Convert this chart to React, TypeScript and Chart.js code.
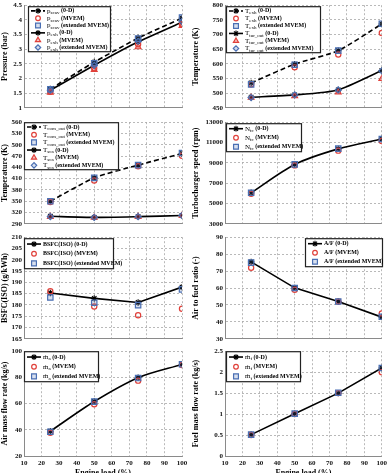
import React, { useEffect, useRef } from "react";
import { Chart, registerables } from "chart.js";

Chart.register(...registerables);

const FONT = '"Liberation Serif", "Times New Roman", serif';

// Engine load (%) — x positions of all measurements
const engineLoad = [25, 50, 75, 100];
const loadAxisRange = [10, 100, 10];

// Pressure (bar)
const pScav0D = [1.64, 2.56, 3.38, 4.06];
const pScavMVEM = [1.55, 2.35, 3.17, 3.85];
const pScavExt = [1.63, 2.52, 3.36, 4.08];
const pExh0D = [1.6, 2.45, 3.25, 3.92];
const pExhMVEM = [1.52, 2.3, 3.07, 3.8];
const pExhExt = [1.6, 2.45, 3.27, 3.95];
const pressureRange = [1, 4.5, 0.5];

// Temperature (K) exhaust / turbine out
const tExh0D = [535, 599, 645, 736];
const tExhMVEM = [530, 588, 632, 705];
const tExhExt = [530, 597, 645, 737];
const tTurOut0D = [486, 494, 511, 577];
const tTurOutMVEM = [485, 490, 503, 549];
const tTurOutExt = [485, 494, 511, 576];
const tempExhRange = [450, 800, 50];

// Temperature (K) compressor out / scavenge
const tComOut0D = [350, 412, 446, 477];
const tComOutMVEM = [348, 405, 443, 471];
const tComOutExt = [350, 412, 446, 478];
const tSca0D = [310, 307, 309, 312];
const tScaMVEM = [309, 307, 309, 312];
const tScaExt = [309, 307, 309, 312];
const tempComRange = [290, 560, 30];

// Turbocharger speed (rpm)
const nTc0D = [6050, 8840, 10375, 11340];
const nTcMVEM = [5950, 8750, 10200, 11150];
const nTcExt = [6050, 8850, 10400, 11350];
const speedRange = [3000, 13000, 2000];

// BSFC(ISO) (g/kWh)
const bsfc0D = [185.3, 182.9, 181.1, 187.9];
const bsfcMVEM = [186.1, 179.3, 175.4, 178.3];
const bsfcExt = [183.3, 181, 179.9, 186.9];
const bsfcRange = [165, 210, 5];

// Air to fuel ratio (-)
const af0D = [75.4, 60.1, 52, 42.8];
const afMVEM = [72, 59, 52, 45];
const afExt = [75, 60, 52, 43];
const afRange = [30, 90, 10];

// Air mass flow rate (kg/s)
const ma0D = [38.9, 61.6, 79.8, 89.9];
const maMVEM = [37.8, 59.5, 77.5, 89.5];
const maExt = [38.5, 61.5, 79.5, 90];
const maRange = [20, 100, 20];

// Fuel mass flow rate (kg/s)
const mf0D = [0.51, 1.01, 1.5, 2.1];
const mfMVEM = [0.5, 1.0, 1.5, 2.0];
const mfExt = [0.51, 1.01, 1.51, 2.1];
const mfRange = [0, 2.5, 0.5];

const RED = "#e0403a";
const RED_FILL = "rgba(224,64,58,0.30)";
const BLUE = "#4a6fb3";
const BLUE_FILL = "rgba(74,111,179,0.22)";

type Series = {
  kind: "0D" | "mvem" | "ext";
  data: number[];
  dashed?: boolean;
  style?: string;
  main: string;
  sub?: string;
  rest: string;
};
type Box = { dx: number; dy: number; w: number; h: number };
type Spec = {
  row: number;
  col: number;
  yTitle: string;
  yRange: number[];
  tension: number;
  legend: Box;
  series: Series[];
};

const COLS = [
  { left: 0, width: 190, yW: 24, padR: 8, titlePad: 0 },
  { left: 190, width: 197, yW: 35, padR: 4, titlePad: 1.2 },
];
const ROWS = [
  { top: 5, bottom: 110 },
  { top: 122, bottom: 226 },
  { top: 237, bottom: 341 },
  { top: 351, bottom: 456 },
];

function trio(main: string, sub: string | undefined, d0: number[], dm: number[], de: number[], dashed: boolean, mStyle: string, eStyle: string): Series[] {
  return [
    { kind: "0D", data: d0, dashed, main, sub, rest: "(0-D)" },
    { kind: "mvem", data: dm, style: mStyle, main, sub, rest: "(MVEM)" },
    { kind: "ext", data: de, style: eStyle, main, sub, rest: "(extended MVEM)" },
  ];
}

const SPECS: Spec[] = [
  {
    row: 0, col: 0, yTitle: "Pressure (bar)", yRange: pressureRange, tension: 0.1,
    legend: { dx: 4, dy: 1, w: 83, h: 46 },
    series: [
      ...trio("p", "scav", pScav0D, pScavMVEM, pScavExt, true, "circle", "rect"),
      ...trio("p", "exh", pExh0D, pExhMVEM, pExhExt, false, "triangle", "rectRot"),
    ],
  },
  {
    row: 0, col: 1, yTitle: "Temperature (K)", yRange: tempExhRange, tension: 0.2,
    legend: { dx: 1, dy: 1, w: 95, h: 47 },
    series: [
      ...trio("T", "exh", tExh0D, tExhMVEM, tExhExt, true, "circle", "rect"),
      ...trio("T", "tur_out", tTurOut0D, tTurOutMVEM, tTurOutExt, false, "triangle", "rectRot"),
    ],
  },
  {
    row: 1, col: 0, yTitle: "Temperature (K)", yRange: tempComRange, tension: 0.2,
    legend: { dx: 0, dy: 0, w: 95, h: 48 },
    series: [
      ...trio("T", "com_out", tComOut0D, tComOutMVEM, tComOutExt, true, "circle", "rect"),
      ...trio("T", "sca", tSca0D, tScaMVEM, tScaExt, false, "triangle", "rectRot"),
    ],
  },
  {
    row: 1, col: 1, yTitle: "Turbocharger speed (rpm)", yRange: speedRange, tension: 0.3,
    legend: { dx: 1, dy: 1, w: 76, h: 29 },
    series: trio("N", "tc", nTc0D, nTcMVEM, nTcExt, false, "circle", "rect"),
  },
  {
    row: 2, col: 0, yTitle: "BSFC(ISO) (g/kWh)", yRange: bsfcRange, tension: 0,
    legend: { dx: 0, dy: 1, w: 90, h: 31 },
    series: trio("BSFC(ISO)", undefined, bsfc0D, bsfcMVEM, bsfcExt, false, "circle", "rect"),
  },
  {
    row: 2, col: 1, yTitle: "Air to fuel ratio (-)", yRange: afRange, tension: 0,
    legend: { dx: 80, dy: 1, w: 78, h: 29 },
    series: trio("A/F", undefined, af0D, afMVEM, afExt, false, "circle", "rect"),
  },
  {
    row: 3, col: 0, yTitle: "Air mass flow rate (kg/s)", yRange: maRange, tension: 0.3,
    legend: { dx: 0, dy: 0, w: 75, h: 31 },
    series: trio("ṁ", "a", ma0D, maMVEM, maExt, false, "circle", "rect"),
  },
  {
    row: 3, col: 1, yTitle: "Fuel mass flow rate (kg/s)", yRange: mfRange, tension: 0,
    legend: { dx: 1, dy: 0, w: 75, h: 31 },
    series: trio("ṁ", "f", mf0D, mfMVEM, mfExt, false, "circle", "rect"),
  },
];

function markerRadius(style: string): number {
  if (style === "rect") return 3.8;
  if (style === "triangle") return 3.3;
  if (style === "rectRot") return 3;
  if (style === "star") return 3.2;
  return 2.6;
}

function makeDataset(s: Series, tension: number) {
  const data = engineLoad.map((x, i) => ({ x, y: s.data[i] }));
  const label = s.main + (s.sub ? "_" + s.sub : "") + " " + s.rest;
  if (s.kind === "0D") {
    return {
      label, data,
      borderColor: "#000", backgroundColor: "#000",
      borderWidth: 1.6, borderDash: s.dashed ? [5, 3] : [],
      tension, showLine: true, fill: false,
      pointStyle: "star", pointRadius: markerRadius("star"),
      pointBorderColor: "#000", pointBackgroundColor: "#000", pointBorderWidth: 1.1,
      order: 2,
    };
  }
  const style = s.style || "circle";
  const isRed = s.kind === "mvem";
  const stroke = isRed ? RED : BLUE;
  const fill = isRed ? (style === "triangle" ? RED_FILL : "rgba(255,255,255,0)") : BLUE_FILL;
  return {
    label, data, showLine: false,
    borderColor: stroke, backgroundColor: fill,
    pointStyle: style, pointRadius: markerRadius(style),
    pointBorderColor: stroke, pointBackgroundColor: fill, pointBorderWidth: 1.2,
    order: isRed ? 1 : 0,
  };
}

function drawMarker(ctx: CanvasRenderingContext2D, style: string, x: number, y: number, r: number, stroke: string, fill: string, lw: number) {
  ctx.save();
  ctx.setLineDash([]);
  ctx.strokeStyle = stroke;
  ctx.fillStyle = fill;
  ctx.lineWidth = lw;
  ctx.beginPath();
  if (style === "circle") {
    ctx.arc(x, y, r, 0, Math.PI * 2);
    ctx.fill();
    ctx.stroke();
  } else if (style === "rect") {
    const s = r * Math.SQRT1_2;
    ctx.rect(x - s, y - s, 2 * s, 2 * s);
    ctx.fill();
    ctx.stroke();
  } else if (style === "rectRot") {
    ctx.moveTo(x - r, y);
    ctx.lineTo(x, y - r);
    ctx.lineTo(x + r, y);
    ctx.lineTo(x, y + r);
    ctx.closePath();
    ctx.fill();
    ctx.stroke();
  } else if (style === "triangle") {
    ctx.moveTo(x, y - r);
    ctx.lineTo(x + 0.866 * r, y + 0.5 * r);
    ctx.lineTo(x - 0.866 * r, y + 0.5 * r);
    ctx.closePath();
    ctx.fill();
    ctx.stroke();
  } else {
    const d = r * Math.SQRT1_2;
    ctx.moveTo(x - d, y - d); ctx.lineTo(x + d, y + d);
    ctx.moveTo(x - d, y + d); ctx.lineTo(x + d, y - d);
    ctx.moveTo(x, y - r); ctx.lineTo(x, y + r);
    ctx.moveTo(x - r, y); ctx.lineTo(x + r, y);
    ctx.stroke();
  }
  ctx.restore();
}

function legendPlugin(box: Box, series: Series[]) {
  return {
    id: "boxLegend",
    afterDatasetsDraw(chart: any) {
      const ctx: CanvasRenderingContext2D = chart.ctx;
      const a = chart.chartArea;
      const x = a.left + box.dx;
      const y = a.top + box.dy;
      ctx.save();
      ctx.fillStyle = "#fff";
      ctx.fillRect(x, y, box.w, box.h);
      ctx.strokeStyle = "#222";
      ctx.lineWidth = 1.2;
      ctx.setLineDash([]);
      ctx.strokeRect(x + 0.5, y + 0.5, box.w - 1, box.h - 1);
      const rowH = (box.h - 2) / series.length;
      series.forEach((s, i) => {
        const ds = chart.data.datasets[i];
        const cy = y + 1 + rowH * (i + 0.5);
        if (s.kind === "0D") {
          ctx.save();
          ctx.strokeStyle = "#000";
          ctx.lineWidth = 1.6;
          ctx.setLineDash(s.dashed ? [4, 2] : []);
          ctx.beginPath();
          ctx.moveTo(x + 3, cy);
          ctx.lineTo(x + 17, cy);
          ctx.stroke();
          ctx.restore();
        }
        drawMarker(ctx, ds.pointStyle, x + 10, cy, ds.pointRadius * 0.9, ds.pointBorderColor, ds.pointBackgroundColor, ds.pointBorderWidth);
        let tx = x + 19;
        ctx.fillStyle = "#000";
        ctx.textAlign = "left";
        ctx.textBaseline = "middle";
        if (s.sub) {
          ctx.font = `7px ${FONT}`;
          ctx.fillText(s.main, tx, cy);
          tx += ctx.measureText(s.main).width;
          ctx.font = `5px ${FONT}`;
          ctx.fillText(s.sub, tx, cy + 2);
          tx += ctx.measureText(s.sub).width;
          ctx.font = `bold 6px ${FONT}`;
          ctx.fillText(" " + s.rest, tx, cy);
        } else {
          ctx.font = `bold 6px ${FONT}`;
          ctx.fillText(s.main + " " + s.rest, tx, cy);
        }
      });
      ctx.restore();
    },
  };
}

const fmt = (v: any) => String(Math.round(Number(v) * 1000) / 1000);

function ChartCanvas({ spec }: { spec: Spec }) {
  const ref = useRef<HTMLCanvasElement>(null);
  const col = COLS[spec.col];
  const row = ROWS[spec.row];
  const isBottom = spec.row === 3;
  const xH = isBottom ? 22 : 3;
  const padTop = 5;
  const top = row.top - padTop;
  const height = padTop + (row.bottom - row.top) + xH;

  useEffect(() => {
    const canvas = ref.current;
    if (!canvas) return;
    const zeroPad = (s: any) => {
      s.paddingTop = 0;
      s.paddingBottom = 0;
      s.paddingLeft = 0;
      s.paddingRight = 0;
    };
    const chart = new Chart(canvas, {
      type: "line",
      data: { datasets: spec.series.map((s) => makeDataset(s, spec.tension)) as any },
      options: {
        responsive: false,
        animation: false,
        devicePixelRatio: 1,
        events: [],
        layout: { padding: { top: padTop, right: col.padR, left: 0, bottom: 0 } },
        plugins: { legend: { display: false }, tooltip: { enabled: false } },
        scales: {
          x: {
            type: "linear",
            min: loadAxisRange[0],
            max: loadAxisRange[1],
            ticks: {
              stepSize: loadAxisRange[2],
              display: isBottom,
              font: { family: FONT, size: 7, weight: "bold" },
              color: "#111",
              padding: 3,
              maxRotation: 0,
              autoSkip: false,
              callback: fmt,
            },
            grid: { color: "#a8a8a8", lineWidth: 0.8, drawTicks: false },
            border: { display: true, color: "#8a8a8a", width: 1, dash: [2, 2] },
            title: {
              display: isBottom,
              text: "Engine load (%)",
              font: { family: FONT, size: 8, weight: "bold" },
              color: "#000",
              padding: { top: 0, bottom: 0 },
            },
            afterFit: (s: any) => {
              s.height = xH;
              zeroPad(s);
            },
          },
          y: {
            type: "linear",
            min: spec.yRange[0],
            max: spec.yRange[1],
            ticks: {
              stepSize: spec.yRange[2],
              font: { family: FONT, size: 7, weight: "bold" },
              color: "#111",
              padding: 2,
              autoSkip: false,
              callback: fmt,
            },
            grid: { color: "#a8a8a8", lineWidth: 0.8, drawTicks: false },
            border: { display: true, color: "#8a8a8a", width: 1, dash: [2, 2] },
            title: {
              display: true,
              text: spec.yTitle,
              font: { family: FONT, size: 8, weight: "bold" },
              color: "#000",
              padding: { top: col.titlePad, bottom: 0 },
            },
            afterFit: (s: any) => {
              s.width = col.yW;
              zeroPad(s);
            },
          },
        },
      } as any,
      plugins: [legendPlugin(spec.legend, spec.series)],
    });
    return () => chart.destroy();
  }, []);

  return (
    <canvas
      ref={ref}
      width={col.width}
      height={height}
      style={{ position: "absolute", left: col.left, top, width: col.width, height }}
    />
  );
}

export default function App() {
  return (
    <div
      style={{
        position: "absolute",
        left: 0,
        top: 0,
        width: 387,
        height: 473,
        overflow: "hidden",
        background: "#fff",
      }}
    >
      {SPECS.map((s, i) => (
        <ChartCanvas key={i} spec={s} />
      ))}
    </div>
  );
}
